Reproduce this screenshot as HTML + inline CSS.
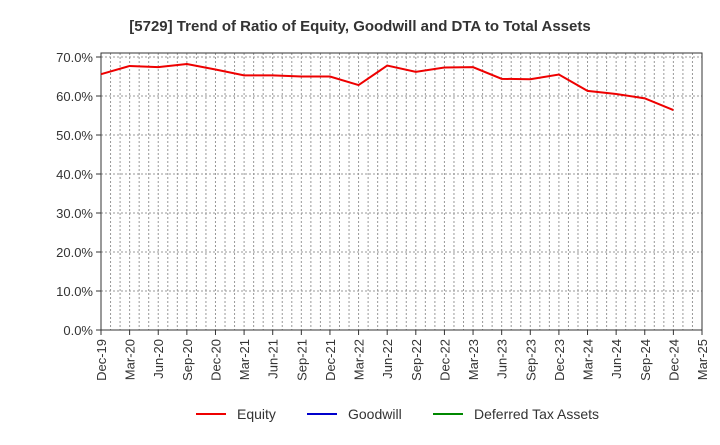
<!DOCTYPE html>
<html><head><meta charset="utf-8"><style>
body{margin:0;background:#fff;}
svg{font-family:"Liberation Sans",sans-serif;}
</style></head><body>
<svg id="c" width="720" height="440">
<text x="360" y="31" text-anchor="middle" font-size="15" font-weight="bold" fill="#333">[5729]  Trend of Ratio of Equity, Goodwill and DTA to Total Assets</text>
<g id="grid"></g><g id="axes"></g><g id="series"></g>
<g>
<g><line x1="196" y1="414" x2="226" y2="414" stroke="#e00" stroke-width="2"/><text x="237" y="419" font-size="14" fill="#333">Equity</text></g>
<g><line x1="307" y1="414" x2="337" y2="414" stroke="#00c" stroke-width="2"/><text x="348" y="419" font-size="14" fill="#333">Goodwill</text></g>
<g><line x1="433" y1="414" x2="463" y2="414" stroke="#080" stroke-width="2"/><text x="474" y="419" font-size="14" fill="#333">Deferred Tax Assets</text></g>
</g>
</svg>
<script>
const categories=["Dec-19","Mar-20","Jun-20","Sep-20","Dec-20","Mar-21","Jun-21","Sep-21","Dec-21","Mar-22","Jun-22","Sep-22","Dec-22","Mar-23","Jun-23","Sep-23","Dec-23","Mar-24","Jun-24","Sep-24","Dec-24","Mar-25"];
const equity=[65.6,67.7,67.4,68.2,66.8,65.3,65.3,65.0,65.0,62.8,67.8,66.2,67.3,67.4,64.4,64.3,65.5,61.3,60.5,59.4,56.4];
const yTicks=[0,10,20,30,40,50,60,70];
const NS="http://www.w3.org/2000/svg";
const X0=101,X1=702,Y0=330,YT=57,FT=53;
const xs=i=>X0+i*(X1-X0)/(categories.length-1);
const ys=v=>Y0-v*(Y0-YT)/70;
function mk(p,t,a){const e=document.createElementNS(NS,t);for(const k in a)e.setAttribute(k,a[k]);p.appendChild(e);return e;}
const grid=document.getElementById('grid'),axes=document.getElementById('axes'),ser=document.getElementById('series');
const months=(categories.length-1)*3;
for(let m=1;m<months;m++){const x=X0+m*(X1-X0)/months;
const l=mk(grid,'line',{x1:x,x2:x,y1:FT,y2:Y0,stroke:'#999','stroke-dasharray':'2,2','stroke-width':1});

}
yTicks.forEach(v=>{const y=ys(v);
if(v>0){const l=mk(grid,'line',{x1:X0,x2:X1,y1:y,y2:y,stroke:'#999','stroke-dasharray':'2,2'});

}
mk(axes,'line',{x1:X0-5,x2:X0,y1:y,y2:y,stroke:'#333'});
const t=mk(axes,'text',{x:X0-8,y:y+5,'text-anchor':'end','font-size':13,fill:'#333'});t.textContent=v.toFixed(1)+'%';

});
const fr=mk(axes,'rect',{x:X0,y:FT,width:X1-X0,height:Y0-FT,fill:'none',stroke:'#333'});


categories.forEach((c,i)=>{const x=xs(i);
mk(axes,'line',{x1:x,x2:x,y1:Y0,y2:Y0+5,stroke:'#333'});
const t=mk(axes,'text',{x:x+5,y:Y0+9,'text-anchor':'end','font-size':13,fill:'#333',transform:`rotate(-90 ${x+5} ${Y0+9})`});t.textContent=c;

});
const p=mk(ser,'polyline',{points:equity.map((v,i)=>xs(i)+','+ys(v)).join(' '),fill:'none',stroke:'#e00','stroke-width':2});


</script>
</body></html>
